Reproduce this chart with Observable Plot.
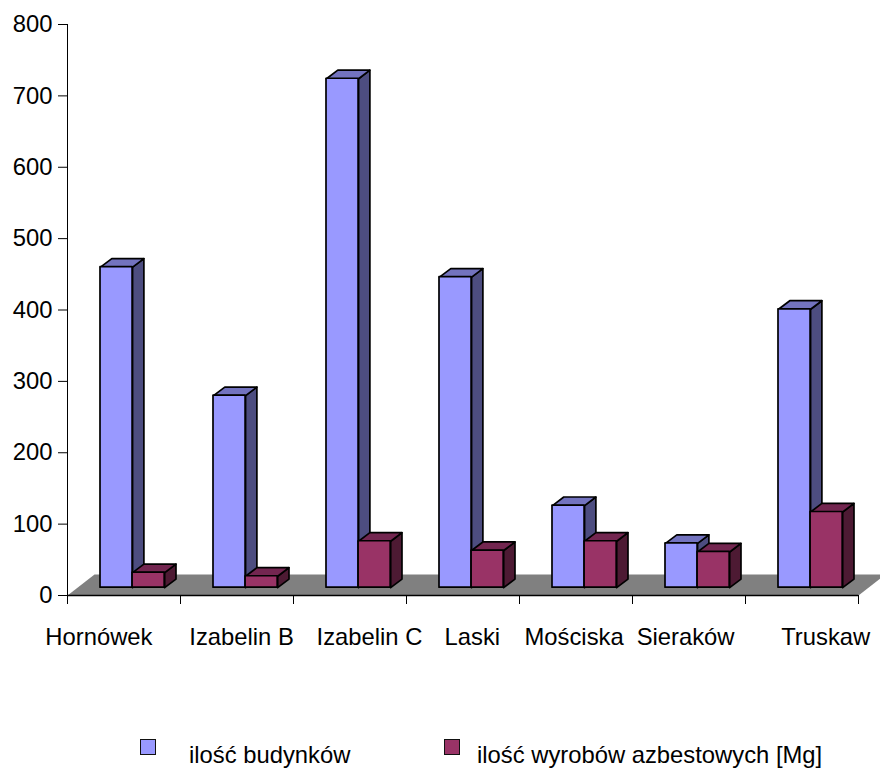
<!DOCTYPE html>
<html>
<head>
<meta charset="utf-8">
<script src="https://cdn.jsdelivr.net/npm/d3@7"></script>
<script src="https://cdn.jsdelivr.net/npm/@observablehq/plot@0.6"></script>
<style>
html,body{margin:0;padding:0;background:#fff;}
#wrap{position:relative;width:880px;height:769px;overflow:hidden;font-family:"Liberation Sans",Arial,sans-serif;color:#000;}
#wrap svg{display:block;}
.sw{position:absolute;box-sizing:border-box;width:16px;height:16px;top:739px;border:1.5px solid #111;}
.lt{position:absolute;top:741px;font-size:23.8px;line-height:28px;white-space:nowrap;}
</style>
</head>
<body>
<div id="wrap"></div>
<script>
const categories = ["Hornówek","Izabelin B","Izabelin C","Laski","Mościska","Sieraków","Truskaw"];
const buildings = [460,280,724,446,126,73,401];
const asbestos  = [32,27,76,63,76,61,117];
const seriesNames = ["ilość budynków","ilość wyrobów azbestowych [Mg]"];
const yTicks = [0,100,200,300,400,500,600,700,800];

// Layout of the pseudo-3D drawing, in scale units
const barStart = 0.292, barWidth = 0.284, baseValue = 11;
const depthX = 0.1, depthY = 12;
const floorX = 0.239, floorY = 29.5;
const labelShift = [-0.222,0.04,0.172,0.083,-0.017,-0.03,0.21];

const palette = [
  {front:"#9999FF", side:"#4D4D80", top:"#7373BF"},
  {front:"#993366", side:"#4D1A33", top:"#732650"}
];
const series = [buildings, asbestos];
const edge = {stroke:"#000", strokeWidth:1.7, strokeLinejoin:"round"};

function faces(values, s, kind){
  return values.flatMap((v,i)=>{
    const x1 = i+barStart+s*barWidth, x2 = x1+barWidth;
    const pts = kind==="side"
      ? [[x2,baseValue],[x2+depthX,baseValue+depthY],[x2+depthX,v+depthY],[x2,v]]
      : [[x1,v],[x2,v],[x2+depthX,v+depthY],[x1+depthX,v+depthY]];
    return pts.map(([x,y])=>({x,y,id:i}));
  });
}
const floor = [[0,0],[7,0],[7+floorX,floorY],[floorX,floorY]].map(([x,y])=>({x,y}));
const closed = "linear-closed";

const barMarks = series.flatMap((values,s)=>[
  Plot.line(faces(values,s,"side"),{x:"x",y:"y",z:"id",curve:closed,fill:palette[s].side,...edge}),
  Plot.line(faces(values,s,"top"),{x:"x",y:"y",z:"id",curve:closed,fill:palette[s].top,...edge}),
  Plot.rect(values.map((v,i)=>({i,v})),{
    x1:d=>d.i+barStart+s*barWidth, x2:d=>d.i+barStart+(s+1)*barWidth,
    y1:baseValue, y2:"v", fill:palette[s].front, ...edge})
]);

const chart = Plot.plot({
  width:880, height:725,
  marginLeft:67, marginRight:22, marginTop:24, marginBottom:130,
  style:{fontFamily:'"Liberation Sans",Arial,sans-serif',color:"#000",background:"#fff",overflow:"hidden"},
  x:{type:"linear",domain:[0,7],axis:null},
  y:{domain:[0,800],axis:null},
  marks:[
    Plot.line(floor,{x:"x",y:"y",curve:closed,fill:"#808080",stroke:"none"}),
    ...barMarks,
    Plot.ruleX([0],{y1:0,y2:800,stroke:"#000",strokeWidth:1}),
    Plot.ruleY([0],{x1:0,x2:7,stroke:"#000",strokeWidth:1.5}),
    Plot.axisY({ticks:yTicks,tickSize:9,tickPadding:6,fontSize:23.8,tickFormat:d=>String(d),label:null,stroke:"#000"}),
    Plot.axisX({ticks:d3.range(0,8),tickSize:9,tickFormat:()=>"",label:null,stroke:"#000"}),
    Plot.text(categories,{
      x:(d,i)=>i+0.5+labelShift[i], y:0, text:d=>d, dy:42,
      fontSize:23.8, fill:"#000", textAnchor:"middle"})
  ]
});
const wrap = document.getElementById("wrap");
wrap.appendChild(chart);

const legendX = [{sw:140,tx:189},{sw:444,tx:477}];
seriesNames.forEach((name,s)=>{
  const sw=document.createElement("div");
  sw.className="sw"; sw.style.left=legendX[s].sw+"px"; sw.style.background=palette[s].front;
  const t=document.createElement("div");
  t.className="lt"; t.style.left=legendX[s].tx+"px"; t.textContent=name;
  wrap.append(sw,t);
});
</script>
</body>
</html>
